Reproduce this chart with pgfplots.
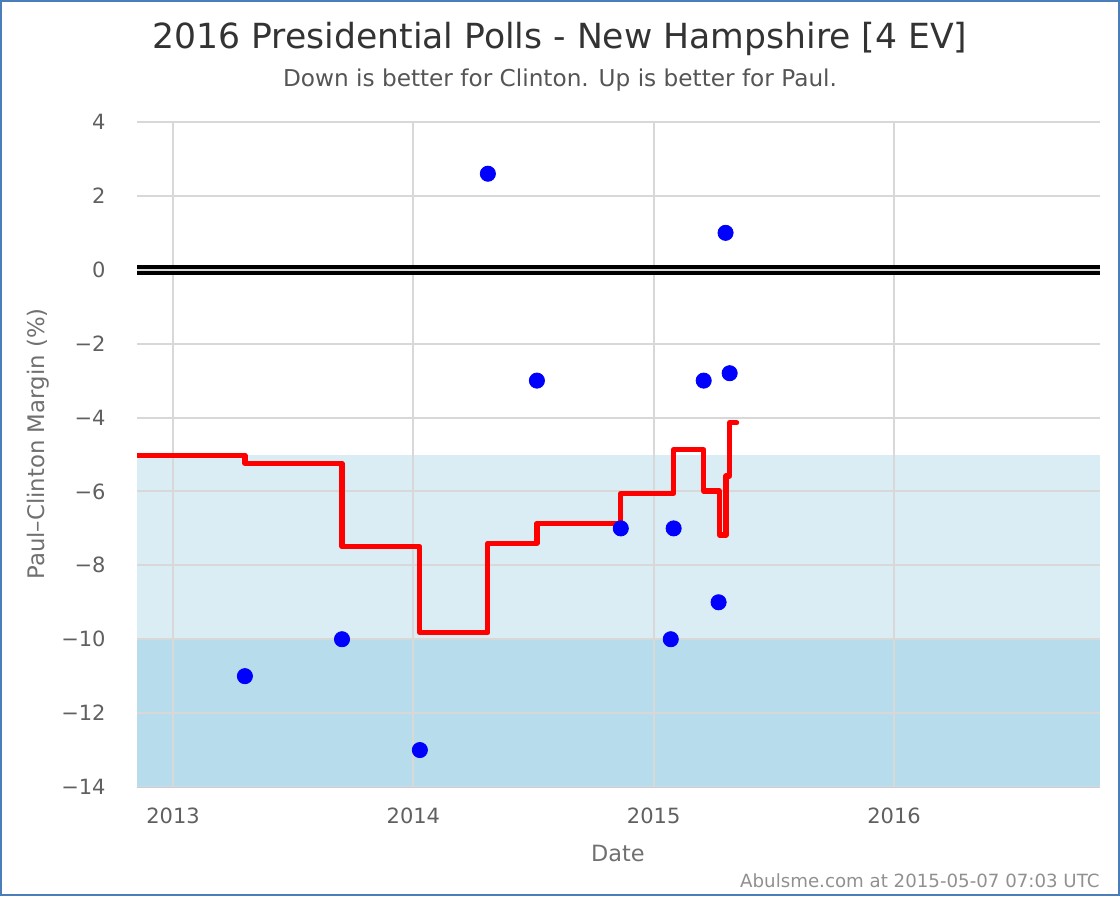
\documentclass[border=0pt]{standalone}
\usepackage{fontspec}
\setmainfont{DejaVu Sans}
\usepackage{pgfplots}
\pgfplotsset{compat=1.18}
\definecolor{gridc}{HTML}{D8D8D8}
\definecolor{bandA}{HTML}{DAEDF5}
\definecolor{bandB}{HTML}{B7DCEC}
\definecolor{framec}{HTML}{4A7EBB}
\definecolor{axisc}{HTML}{C0D0E0}
\definecolor{titlec}{HTML}{333333}
\definecolor{subc}{HTML}{555555}
\definecolor{tickc}{HTML}{606060}
\definecolor{labc}{HTML}{707070}
\definecolor{wmc}{HTML}{909090}
\begin{document}
\begin{tikzpicture}
\draw[framec, line width=1pt] (0.5pt,0.5pt) rectangle (559.5pt,447.5pt);
\begin{axis}[
  at={(68.5pt,54.5pt)}, anchor=south west,
  scale only axis, width=481.5pt, height=332.5pt,
  xmin=2012.85, xmax=2016.857, ymin=-14, ymax=4,
  set layers,
  axis lines*=left,
  x axis line style={draw=axisc, line width=0.5pt},
  y axis line style={draw=none},
  major tick length=0pt,
  grid=major, grid style={gridc, line width=1pt},
  xtick={2013,2014,2015,2016},
  xticklabels={2013,2014,2015,2016},
  ytick={-14,-12,-10,-8,-6,-4,-2,0,2,4},
  yticklabels={−14,−12,−10,−8,−6,−4,−2,0,2,4},
  ticklabel style={font=\fontsize{10.5}{12}\selectfont, text=tickc},
  xticklabel style={inner sep=0pt, anchor=north, yshift=-10.5pt},
  yticklabel style={inner sep=0pt, anchor=east, xshift=-15.5pt},
]
\begin{pgfonlayer}{axis background}
\addplot[fill=bandA, draw=none]
  coordinates {(2012.85,-10) (2016.857,-10) (2016.857,-5) (2012.85,-5)};
\addplot[fill=bandB, draw=none]
  coordinates {(2012.85,-14) (2016.857,-14) (2016.857,-10) (2012.85,-10)};
\end{pgfonlayer}
\addplot[black, line width=5pt] coordinates {(2012.85,0) (2016.857,0)};
\addplot[gridc, line width=1pt] coordinates {(2012.85,0) (2016.857,0)};
\addplot[red, line width=2.6pt, const plot, line join=round, line cap=round]
  coordinates {
  (2012.850,-5.02) (2013.299,-5.24) (2013.703,-7.50) (2014.027,-9.82)
  (2014.310,-7.40) (2014.514,-6.86) (2014.863,-6.05) (2015.083,-4.87)
  (2015.208,-5.99) (2015.274,-7.18) (2015.301,-5.58) (2015.316,-4.14)
  (2015.345,-4.14)};
\addplot[blue, only marks, mark=*, mark size=3.8pt, mark options={solid, fill=blue, draw=blue, line width=0.4pt}]
  coordinates {
  (2013.299,-11) (2013.703,-10) (2014.027,-13) (2014.310,2.6)
  (2014.514,-3) (2014.863,-7) (2015.071,-10) (2015.083,-7)
  (2015.208,-3) (2015.270,-9) (2015.299,1) (2015.316,-2.8)};
\end{axis}
\node[anchor=base, inner sep=0pt, text=titlec, font=\fontsize{17.3}{21}\selectfont] at (280pt,423.5pt) {2016 Presidential Polls - New Hampshire [4 EV]};
\node[anchor=base, inner sep=0pt, text=subc, font=\fontsize{11.6}{14}\selectfont] at (280pt,404.5pt) {Down is better for Clinton. Up is better for Paul.};
\node[anchor=base, inner sep=0pt, text=labc, font=\fontsize{11.2}{13}\selectfont] at (309pt,17.5pt) {Date};
\node[anchor=center, inner sep=0pt, rotate=90, text=labc, font=\fontsize{11.4}{13}\selectfont] at (19pt,226pt) {Paul–Clinton Margin (\%)};
\node[anchor=base east, inner sep=0pt, text=wmc, font=\fontsize{9.1}{11}\selectfont] at (550pt,4.5pt) {Abulsme.com at 2015-05-07 07:03 UTC};
\end{tikzpicture}
\end{document}
